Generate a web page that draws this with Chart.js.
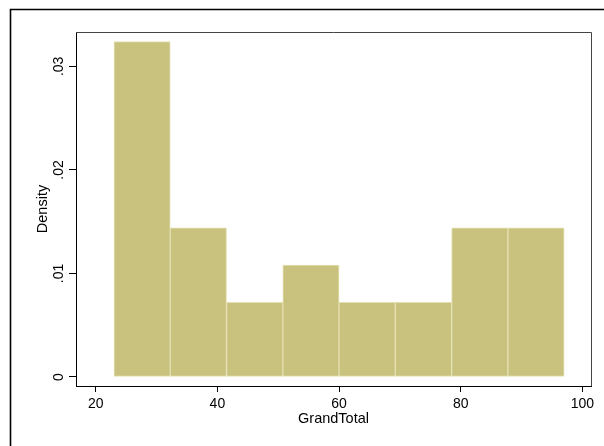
<!DOCTYPE html>
<html lang="en">
<head>
    <meta charset="UTF-8">
    <title>GrandTotal histogram</title>
    <script src="https://cdn.jsdelivr.net/npm/chart.js"></script>
    <style>
        html, body { margin: 0; padding: 0; background: #fff; }
        #wrap { width: 604px; height: 446px; position: relative; }
    </style>
</head>
<body>
    <div id="wrap"><canvas id="histChart" width="604" height="446"></canvas></div>

    <script>
        // histogram bins (GrandTotal) and density
        const binStarts = [23, 32.25, 41.5, 50.75, 60, 69.25, 78.5, 87.75];
        const binWidth = 9.25;
        const densities = [0.0324, 0.0144, 0.0072, 0.0108, 0.0072, 0.0072, 0.0144, 0.0144];
        const xTicks = [20, 40, 60, 80, 100];
        const yTicks = [0, 0.01, 0.02, 0.03];
        const yTickLabels = ['0', '.01', '.02', '.03'];

        const font = '"Liberation Sans", Arial, sans-serif';

        const points = binStarts.map((s, i) => ({ x: s + binWidth / 2, y: densities[i] }));

        // Stata-style frame, rotated y labels and axis titles
        const stataLook = {
            id: 'stataLook',
            beforeDraw(chart) {
                const ctx = chart.ctx;
                ctx.save();
                ctx.fillStyle = '#fff';
                ctx.fillRect(0, 0, chart.width, chart.height);
                ctx.strokeStyle = '#000';
                ctx.lineWidth = 1.6;
                ctx.beginPath();
                ctx.moveTo(10.5, chart.height + 2);
                ctx.lineTo(10.5, 9.5);
                ctx.lineTo(chart.width + 2, 9.5);
                ctx.stroke();
                ctx.restore();
            },
            afterDraw(chart) {
                const ctx = chart.ctx;
                const a = chart.chartArea;
                const y = chart.scales.y;
                ctx.save();
                // top and right edge of the plot region
                ctx.strokeStyle = '#444';
                ctx.lineWidth = 1;
                ctx.beginPath();
                ctx.moveTo(a.left, a.top + 0.5);
                ctx.lineTo(a.right + 0.5, a.top + 0.5);
                ctx.lineTo(a.right + 0.5, a.bottom);
                ctx.stroke();

                ctx.fillStyle = '#000';
                ctx.font = '14px ' + font;
                ctx.textAlign = 'center';
                ctx.textBaseline = 'middle';
                yTicks.forEach((v, i) => {
                    ctx.save();
                    ctx.translate(59, y.getPixelForValue(v));
                    ctx.rotate(-Math.PI / 2);
                    ctx.fillText(yTickLabels[i], 0, 0);
                    ctx.restore();
                });

                ctx.font = '14.5px ' + font;
                ctx.fillText('GrandTotal', (a.left + a.right) / 2, 419);
                ctx.translate(43, (a.top + a.bottom) / 2);
                ctx.rotate(-Math.PI / 2);
                ctx.fillText('Density', 0, 0);
                ctx.restore();
            }
        };

        new Chart(document.getElementById('histChart'), {
            type: 'bar',
            data: {
                datasets: [{
                    data: points,
                    backgroundColor: 'rgb(201,194,126)',
                    borderColor: 'rgb(228,224,178)',
                    borderWidth: 1,
                    borderSkipped: false,
                    barPercentage: 1,
                    categoryPercentage: 1
                }]
            },
            options: {
                responsive: false,
                animation: false,
                layout: { padding: { left: 0, top: 32, right: 13, bottom: 0 } },
                plugins: {
                    legend: { display: false },
                    tooltip: { enabled: false }
                },
                scales: {
                    x: {
                        type: 'linear',
                        offset: false,
                        min: 16.76,
                        max: 101.41,
                        afterBuildTicks: s => { s.ticks = xTicks.map(v => ({ value: v })); },
                        afterFit: s => { s.height = 60; },
                        grid: { offset: false, drawOnChartArea: false, tickLength: 6, color: '#000' },
                        border: { color: '#000', width: 1 },
                        ticks: {
                            color: '#000',
                            font: { family: font, size: 14 },
                            padding: 4,
                            maxRotation: 0
                        }
                    },
                    y: {
                        min: -0.00087,
                        max: 0.03332,
                        afterBuildTicks: s => { s.ticks = yTicks.map(v => ({ value: v })); },
                        afterFit: s => { s.width = 76; },
                        grid: { drawOnChartArea: false, tickLength: 7, color: '#000' },
                        border: { color: '#000', width: 1 },
                        ticks: { color: 'rgba(0,0,0,0)', font: { family: font, size: 14 } }
                    }
                }
            },
            plugins: [stataLook]
        });
    </script>
</body>
</html>
